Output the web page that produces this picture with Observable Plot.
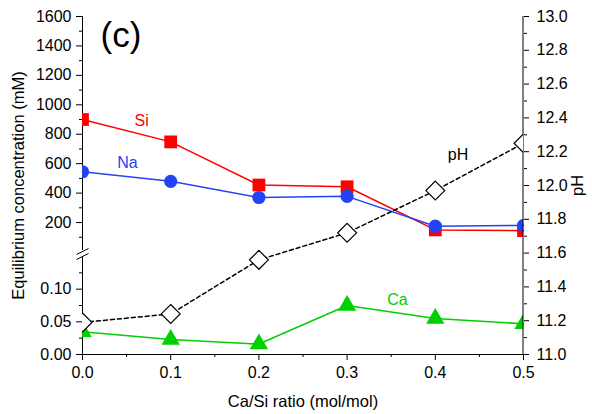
<!DOCTYPE html>
<html><head><meta charset="utf-8">
<script src="https://cdn.jsdelivr.net/npm/d3@7"></script>
<script src="https://cdn.jsdelivr.net/npm/@observablehq/plot@0.6"></script>
<style>
body{margin:0;background:#fff;}
#chart{position:relative;width:592px;height:414px;}
#chart svg{position:absolute;left:0;top:0;overflow:visible;}
</style></head><body><div id="chart"></div>
<script>
// ---- data ----
const ratio = [0, 0.1, 0.2, 0.3, 0.4, 0.5];
const si = [900, 748, 455, 443, 150, 145];
const na = [545, 480, 370, 378, 175, 180];
const ca = [0.035, 0.023, 0.016, 0.075, 0.055, 0.047];
const ph = [11.19, 11.24, 11.56, 11.72, 11.97, 12.25];

const upperTicks = [200, 400, 600, 800, 1000, 1200, 1400, 1600];
const upperMinor = [100, 300, 500, 700, 900, 1100, 1300, 1500];
const lowerTicks = [0, 0.05, 0.10];
const lowerMinor = [0.025, 0.075, 0.125];
const phTicks = [11.0, 11.2, 11.4, 11.6, 11.8, 12.0, 12.2, 12.4, 12.6, 12.8, 13.0];
const phMinor = [11.1, 11.3, 11.5, 11.7, 11.9, 12.1, 12.3, 12.5, 12.7, 12.9];
const xTicks = [0, 0.1, 0.2, 0.3, 0.4, 0.5];
const xMinor = [0.05, 0.15, 0.25, 0.35, 0.45];

const rows = ratio.map((r, i) => ({r, si: si[i], na: na[i], ca: ca[i], ph: ph[i]}));

const RED = "#ff0000", BLUE = "#2343f5", GREEN = "#00d000";
const FONT = '"Liberation Sans", Arial, Helvetica, sans-serif';
const base = {
  width: 592, height: 414, marginLeft: 82, marginRight: 69,
  style: {fontFamily: FONT, fontSize: "16px", background: "transparent", color: "black", overflow: "visible"}
};
const breakSymbol = {
  draw(ctx) {
    ctx.moveTo(-6, 0.5); ctx.lineTo(6, -5.5);
    ctx.moveTo(-6, 5.5); ctx.lineTo(6, -0.5);
  }
};

const upper = Plot.plot({
  ...base, marginTop: 16, marginBottom: 164,
  x: {domain: [0, 0.5], axis: null},
  y: {domain: [10, 1600]},
  marks: [
    Plot.axisY(upperMinor, {anchor: "left", tickSize: 3, fill: "none", label: null}),
    Plot.axisY(upperTicks, {anchor: "left", tickSize: 6, tickPadding: 5, label: null, tickFormat: d => String(d), fontSize: 16}),
    Plot.ruleX([0], {y1: 10, y2: 1600, stroke: "black"}),
    Plot.line(rows, {x: "r", y: "si", stroke: RED, strokeWidth: 1.5}),
    Plot.dot(rows, {x: "r", y: "si", symbol: "square", r: 7.2, fill: RED, clip: true}),
    Plot.line(rows, {x: "r", y: "na", stroke: BLUE, strokeWidth: 1.5}),
    Plot.dot(rows, {x: "r", y: "na", symbol: "circle", r: 6.6, fill: BLUE, clip: true}),
    Plot.text(["Si"], {x: 0.067, y: 890, fill: RED, fontSize: 16}),
    Plot.text(["Na"], {x: 0.051, y: 606, fill: BLUE, fontSize: 16}),
    Plot.dot([0], {x: 0, y: 10, dy: 3.5, symbol: breakSymbol, stroke: "black", fill: "none", strokeWidth: 1})
  ]
});

const lower = Plot.plot({
  ...base, marginTop: 256, marginBottom: 60,
  x: {domain: [0, 0.5], axis: null},
  y: {domain: [0, 0.15]},
  marks: [
    Plot.axisY(lowerMinor, {anchor: "left", tickSize: 3, fill: "none", label: null}),
    Plot.axisY(lowerTicks, {anchor: "left", tickSize: 6, tickPadding: 5, label: null, tickFormat: d3.format(".2f"), fontSize: 16}),
    Plot.ruleX([0], {y1: 0, y2: 0.15, stroke: "black"}),
    Plot.line(rows, {x: "r", y: "ca", stroke: GREEN, strokeWidth: 1.5}),
    Plot.dot(rows, {x: "r", y: "ca", symbol: "triangle", r: 6.8, fill: GREEN, clip: true}),
    Plot.text(["Ca"], {x: 0.357, y: 0.083, fill: GREEN, fontSize: 16})
  ]
});

const phPlot = Plot.plot({
  ...base, marginTop: 16, marginBottom: 60,
  x: {domain: [0, 0.5]},
  y: {domain: [11, 13]},
  marks: [
    Plot.axisX(xMinor, {anchor: "bottom", tickSize: 3, fill: "none", label: null}),
    Plot.axisX(xTicks, {anchor: "bottom", tickSize: 6, tickPadding: 6, tickFormat: d3.format(".1f"), label: null, fontSize: 16}),
    Plot.axisY(phMinor, {anchor: "right", tickSize: 3, fill: "none", label: null}),
    Plot.axisY(phTicks, {anchor: "right", tickSize: 5, tickPadding: 8, tickFormat: d3.format(".1f"), label: null, fontSize: 16}),
    Plot.ruleY([11], {stroke: "black"}),
    Plot.ruleX([0.5], {dx: -0.5, stroke: "black"}),
    Plot.line(rows, {x: "r", y: "ph", stroke: "black", strokeWidth: 1.5, strokeDasharray: "4,3"}),
    Plot.dot(rows, {x: "r", y: "ph", symbol: "diamond2", r: 8.5, fill: "white", stroke: "black", strokeWidth: 1.2, clip: true}),
    Plot.text(["pH"], {x: 0.4257, y: 12.18, fill: "black", fontSize: 16}),
    Plot.text(["Equilibrium concentration (mM)"], {frameAnchor: "left", dx: -64, rotate: -90, textAnchor: "middle", lineAnchor: "middle", fontSize: 16.5}),
    Plot.text(["pH"], {frameAnchor: "right", dx: 54, rotate: -90, textAnchor: "middle", lineAnchor: "middle", fontSize: 16.5}),
    Plot.text(["Ca/Si ratio (mol/mol)"], {frameAnchor: "bottom", dy: 47, textAnchor: "middle", lineAnchor: "middle", fontSize: 16.5}),
    Plot.text(["(c)"], {frameAnchor: "top-left", dx: 18, dy: 19, textAnchor: "start", lineAnchor: "middle", fontSize: 35})
  ]
});

const el = document.getElementById("chart");
el.append(upper, lower, phPlot);
</script></body></html>
